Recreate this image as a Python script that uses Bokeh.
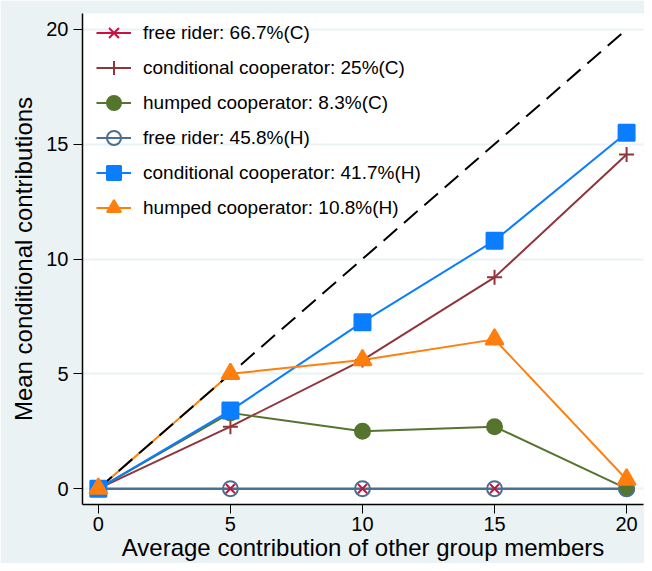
from bokeh.plotting import figure
from bokeh.models import Range1d, Legend, LegendItem, FixedTicker
from bokeh.embed import file_html
from bokeh.resources import INLINE

# ---- data ----
x_vals = [0, 5, 10, 15, 20]
free_rider_C = [0, 0, 0, 0, 0]
cond_coop_C = [0, 2.7, 5.6, 9.2, 14.55]
humped_coop_C = [0, 3.3, 2.5, 2.7, 0]
free_rider_H = [0, 0, 0, 0, 0]
cond_coop_H = [0, 3.4, 7.25, 10.8, 15.5]
humped_coop_H = [0, 5.0, 5.6, 6.5, 0.4]
diag_x = [0, 20]
diag_y = [0, 20]
x_ticks = [0, 5, 10, 15, 20]
y_ticks = [0, 5, 10, 15, 20]

labels = [
    "free rider: 66.7%(C)",
    "conditional cooperator: 25%(C)",
    "humped cooperator: 8.3%(C)",
    "free rider: 45.8%(H)",
    "conditional cooperator: 41.7%(H)",
    "humped cooperator: 10.8%(H)",
]

FONT = "Liberation Sans"
BG = "#EAF2F3"

p = figure(width=644, height=563, output_backend="svg", toolbar_location=None,
           x_range=Range1d(-0.6, 20.64), y_range=Range1d(-0.69, 20.69),
           min_border_left=82, min_border_right=1, min_border_top=13, min_border_bottom=50)
p.border_fill_color = BG
p.background_fill_color = "white"
p.outline_line_color = None
p.xgrid.grid_line_color = None
p.ygrid.grid_line_color = BG
p.ygrid.grid_line_width = 2

for ax in (p.xaxis[0], p.yaxis[0]):
    ax.axis_line_color = "black"
    ax.axis_line_width = 1.5
    ax.major_tick_line_color = "black"
    ax.major_tick_out = 9
    ax.major_tick_in = 0
    ax.minor_tick_line_color = None
    ax.major_label_text_font = FONT
    ax.major_label_text_font_size = "20px"
    ax.major_label_text_color = "black"
    ax.axis_label_text_font = FONT
    ax.axis_label_text_font_size = "24px"
    ax.axis_label_text_font_style = "normal"
    ax.axis_label_text_color = "black"
    ax.major_label_standoff = 3
    ax.axis_label_standoff = 0

p.xaxis[0].ticker = FixedTicker(ticks=x_ticks)
p.yaxis[0].ticker = FixedTicker(ticks=y_ticks)
p.xaxis.axis_label = "Average contribution of other group members"
p.yaxis.axis_label = "Mean conditional contributions"
p.yaxis.major_label_orientation = 0
p.yaxis[0].major_label_standoff = 5
p.yaxis[0].axis_label_standoff = 6

series = [
    (free_rider_C, "#CC1040", "x", 13, True),
    (cond_coop_C, "#90353B", "cross", 15, True),
    (humped_coop_C, "#55752F", "circle", 15, True),
    (free_rider_H, "#4B6F8F", "circle", 15, False),
    (cond_coop_H, "#0A7EFF", "square", 16, True),
    (humped_coop_H, "#FF7F0E", "triangle", 18, True),
]

items = []
line_rs = []
for ys, col, mk, sz, filled in series:
    lr = p.line(x_vals, ys, line_color=col, line_width=2)
    line_rs.append(lr)

p.line(diag_x, diag_y, line_color="black", line_width=2, line_dash="18 9")

for (ys, col, mk, sz, filled), lr, lab in zip(series, line_rs, labels):
    if filled:
        sr = p.scatter(x_vals, ys, marker=mk, size=sz, line_color=col, fill_color=col, line_width=2)
    else:
        sr = p.scatter(x_vals, ys, marker=mk, size=sz, line_color=col, fill_color=None, line_width=2)
    items.append(LegendItem(label=lab, renderers=[lr, sr]))

legend = Legend(items=items, location=(11, 276), orientation="vertical",
                glyph_width=35, glyph_height=35, label_height=20, spacing=0,
                padding=3, margin=0, label_standoff=12,
                label_text_font=FONT, label_text_font_size="19px", label_text_color="black",
                background_fill_alpha=0, border_line_alpha=0)
p.add_layout(legend, "center")

open("out.html", "w").write(file_html(p, INLINE))
